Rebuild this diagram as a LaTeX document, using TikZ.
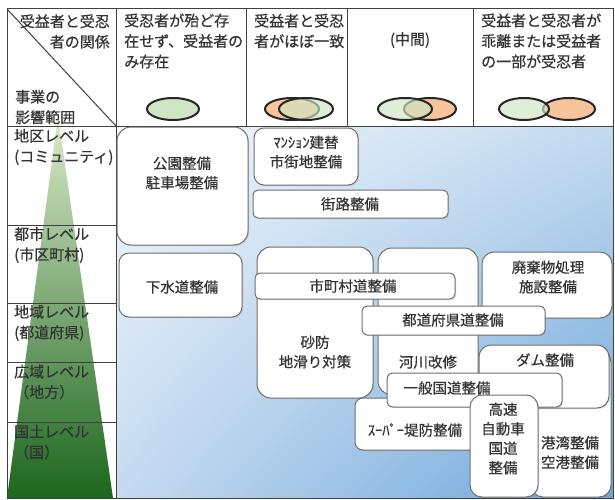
\documentclass[tikz,border=0pt]{standalone}
\usepackage{fontspec}
\setmainfont{Noto Sans CJK JP}[FakeBold=0.5]
\usetikzlibrary{shadows,shadings}
\definecolor{txt}{HTML}{333333}
\definecolor{gridc}{HTML}{404040}
\definecolor{boxline}{HTML}{707070}
\definecolor{bgA}{HTML}{F4F8FC}
\definecolor{bgB}{HTML}{C4DAEF}
\definecolor{bgC}{HTML}{C6DAF0}
\definecolor{bgD}{HTML}{6AA5D9}
\definecolor{triTop}{HTML}{DCEACB}
\definecolor{triMid}{HTML}{8DB766}
\definecolor{triBot}{HTML}{1C661E}
\definecolor{ellG}{HTML}{CFE6C6}
\definecolor{ellO}{HTML}{F8C49B}
\begin{document}
\begin{tikzpicture}[x=1pt,y=-1pt,
  grid/.style={draw=gridc,line width=1pt},
  bx/.style={draw=boxline,fill=white,line width=1pt,rounded corners=#1,inner sep=0pt,
    drop shadow={shadow xshift=1.2pt,shadow yshift=-1.2pt,opacity=0.22}},
  lbl/.style={text=txt,font=\fontsize{14.5}{19.5}\selectfont,inner sep=0pt,align=center},
  hlbl/.style={text=txt,font=\fontsize{15}{20.5}\selectfont,inner sep=0pt},
  ell/.style={line width=2pt,draw=black!85}
]
\useasboundingbox (0,0) rectangle (615,500);
\fill[white] (0,0) rectangle (615,500);
% main area background
\shade[upper left=bgA,upper right=bgB,lower left=bgC,lower right=bgD] (116,126) rectangle (613,498);
% green triangle
\shade[top color=triTop,middle color=triMid,bottom color=triBot] (58,116) -- (113,498) -- (7,498) -- cycle;
% grid
\draw[grid] (7,9) rectangle (613,498);
\draw[grid] (7,126) -- (613,126);
\draw[grid] (116,9) -- (116,498);
\draw[grid] (246,9) -- (246,126);
\draw[grid] (347,9) -- (347,126);
\draw[grid] (473,9) -- (473,126);
\draw[grid] (7,9) -- (116,126);
\foreach \yy in {225,303,362,422} \draw[grid] (7,\yy) -- (116,\yy);
% header texts
\node[hlbl,align=right,anchor=east] (h1a) at (110,31.5) {受益者と受忍\\者の関係};
\node[hlbl,align=left,anchor=west] (h1b) at (15,107) {事業の\\影響範囲};
\node[hlbl,align=left,anchor=west] (h2) at (124,41) {受忍者が殆ど存\\在せず、受益者の\\み存在};
\node[hlbl,align=left,anchor=west] (h3) at (254,31) {受益者と受忍\\者がほぼ一致};
\node[hlbl] (h4) at (410,40) {(中間)};
\node[hlbl,align=left,anchor=west] (h5) at (481,41) {受益者と受忍者が\\乖離または受益者\\の一部が受忍者};
% ellipses
\draw[ell,fill=ellG] (173,109) ellipse [x radius=26pt,y radius=11pt];
\draw[ell,fill=ellO] (292,109) ellipse [x radius=27pt,y radius=11pt];
\fill[ellG,opacity=0.65] (306,109) ellipse [x radius=27pt,y radius=11pt];
\draw[ell] (306,109) ellipse [x radius=27pt,y radius=11pt];
\draw[ell,fill=ellO] (430,109) ellipse [x radius=26pt,y radius=11pt];
\fill[ellG,opacity=0.65] (405,109) ellipse [x radius=27pt,y radius=11pt];
\draw[ell] (405,109) ellipse [x radius=27pt,y radius=11pt];
\draw[ell,fill=ellO] (569,109) ellipse [x radius=26pt,y radius=11pt];
\fill[ellG,opacity=0.65] (524,109) ellipse [x radius=25pt,y radius=11pt];
\draw[ell] (524,109) ellipse [x radius=25pt,y radius=11pt];
% left column labels
\node[hlbl,align=left,anchor=west] (l1) at (14,147) {地区レベル\\(コミュニティ)};
\node[hlbl,align=left,anchor=west] (l2) at (14,245) {都市レベル\\(市区町村)};
\node[hlbl,align=left,anchor=west] (l3) at (14,323) {地域レベル\\(都道府県)};
\node[hlbl,align=left,anchor=west] (l4) at (14,382) {広域レベル\\（地方）};
\node[hlbl,align=left,anchor=west] (l5) at (14,442) {国土レベル\\（国）};
% boxes
\node[bx=14pt,minimum width=131pt,minimum height=118pt] (kouen) at (182.5,186) {};
\node[lbl] (kouenT) at (182,173) {公園整備\\駐車場整備};
\node[bx=10pt,minimum width=104pt,minimum height=57pt] (mansion) at (306,156.5) {};
\node[lbl] (mansionT) at (306,152) {ﾏﾝｼｮﾝ建替\\市街地整備};
\node[bx=5pt,minimum width=195pt,minimum height=28pt] (gairo) at (350.5,204) {};
\node[lbl] (gairoT) at (350,204) {街路整備};
\node[bx=10pt,minimum width=123pt,minimum height=64pt] (gesui) at (180.5,285) {};
\node[lbl] (gesuiT) at (182,287) {下水道整備};
\node[bx=12pt,minimum width=80pt,minimum height=147pt] (kowan) at (571,423.5) {};
\node[lbl] (kowanT) at (570,452.5) {港湾整備\\空港整備};
\node[bx=12pt,minimum width=130pt,minimum height=63pt] (dam) at (544,376.5) {};
\node[lbl] (damT) at (545,360) {ダム整備};
\node[bx=14pt,minimum width=100pt,minimum height=147pt] (kasen) at (428,321.5) {};
\node[lbl] (kasenT) at (428,362) {河川改修};
\node[bx=14pt,minimum width=116pt,minimum height=151pt] (sabo) at (315,322.5) {};
\node[lbl] (saboT) at (315,352) {砂防\\地滑り対策};
\node[bx=5pt,minimum width=200pt,minimum height=26pt] (shichoson) at (355,286) {};
\node[lbl] (shichosonT) at (353,286) {市町村道整備};
\node[bx=12pt,minimum width=130pt,minimum height=66pt] (haiki) at (547,285) {};
\node[lbl] (haikiT) at (548,277) {廃棄物処理\\施設整備};
\node[bx=5pt,minimum width=183pt,minimum height=29pt] (todofuken) at (453.5,320.5) {};
\node[lbl] (todofukenT) at (453,320) {都道府県道整備};
\node[bx=8pt,minimum width=145pt,minimum height=52pt] (super) at (427.5,424) {};
\node[lbl] (superT) at (415,430) {ｽｰﾊﾟｰ堤防整備};
\node[bx=6pt,minimum width=175pt,minimum height=34pt] (ippan) at (474.5,390) {};
\node[lbl] (ippanT) at (447,388) {一般国道整備};
\node[bx=12pt,minimum width=68pt,minimum height=102pt] (kosoku) at (504,446) {};
\node[lbl] (kosokuT) at (503,438.5) {高速\\自動車\\国道\\整備};
\end{tikzpicture}
\end{document}
